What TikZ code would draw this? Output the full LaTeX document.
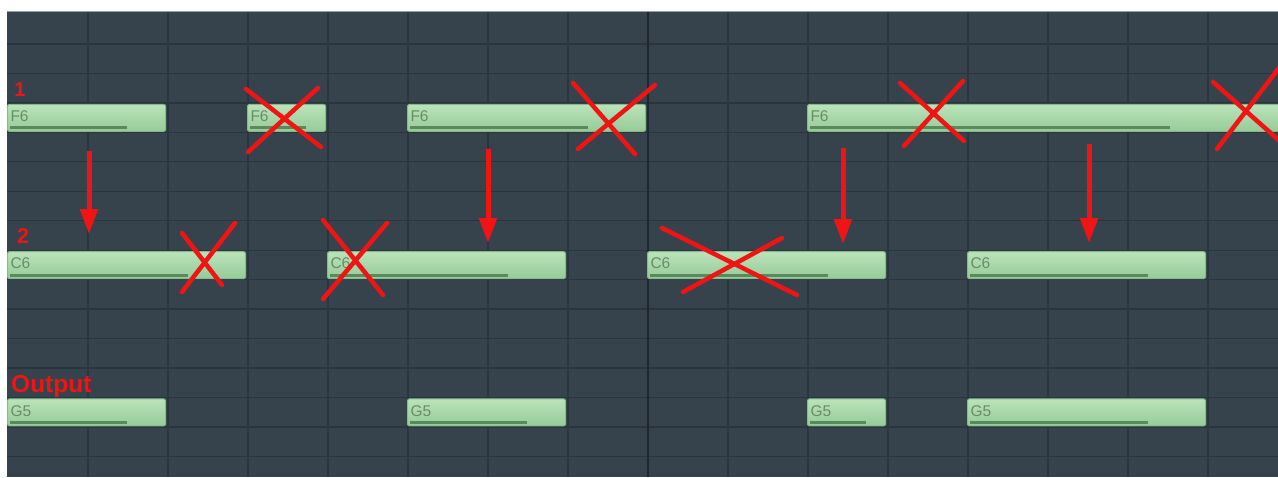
\documentclass[tikz,border=0pt]{standalone}
\usepackage{fontspec}
\setmainfont{Liberation Sans}
\definecolor{prbg}{HTML}{36434D}
\definecolor{prgrid}{HTML}{2A353E}
\definecolor{prbar}{HTML}{1F282F}
\definecolor{prtop}{HTML}{9AA2A8}
\definecolor{ntop}{HTML}{BAE3BA}
\definecolor{nbot}{HTML}{96CB99}
\definecolor{nedge}{HTML}{88B98A}
\definecolor{ntext}{HTML}{678C69}
\definecolor{nvel}{HTML}{5A895D}
\definecolor{mkred}{HTML}{F01414}
\usetikzlibrary{arrows.meta}

\begin{document}
\begin{tikzpicture}[x=1pt,y=-1pt,
  notebox/.style={draw=nedge,line width=1pt,rounded corners=2pt,top color=ntop,bottom color=nbot,
    anchor=north west,minimum height=27pt,inner xsep=3pt,inner ysep=0pt,align=left,
    font=\fontsize{15.5}{15.5}\selectfont,text=ntext,text height=11pt,text depth=3.5pt},
  vel/.style={nvel,line width=3pt},
  tag/.style={text=mkred,inner sep=0pt},
  strike/.style={mkred,line width=4.5pt,line cap=round},
  arr/.style={-{Triangle[length=25pt,width=17pt]},mkred,line width=5pt}]
  \useasboundingbox (0,0) rectangle (1278,477);
  \fill[white] (0,0) rectangle (1278,477);
  \begin{scope}
  \clip (7,11) rectangle (1278,477);
  \fill[prbg] (7,11) rectangle (1278,477);
  % piano roll grid
  \foreach \k in {0,...,14}
    \draw[prgrid,line width=1.3pt] (7,{44+29.45*\k}) -- (1278,{44+29.45*\k});
  \foreach \k in {0,...,14}
    \draw[prgrid,line width=1.5pt] ({88+80*\k},11) -- ({88+80*\k},477);
  \draw[prbar,line width=2pt] (648,11) -- (648,477);
  \draw[prtop,line width=1.5pt] (7,11) -- (1278,11);
  % notes: name/column/length/row/pitch
  \foreach \nm/\col/\len/\row/\txt in {f1/0/2/2/F6, f2/3/1/2/F6, f3/5/3/2/F6, f4/10/6/2/F6,
      c1/0/3/7/C6, c2/4/3/7/C6, c3/8/3/7/C6, c4/12/3/7/C6,
      g1/0/2/12/G5, g2/5/2/12/G5, g3/10/1/12/G5, g4/12/3/12/G5}{
    \pgfmathsetmacro{\xl}{7+80*\col}
    \pgfmathsetmacro{\yt}{45+29.45*\row}
    \pgfmathsetmacro{\w}{80*\len-2}
    \pgfmathsetmacro{\tw}{\w-6}
    \node[notebox,minimum width=\w pt,text width=\tw pt] (\nm) at (\xl,\yt) {\txt};
    \draw[vel] ([shift={(3,-4)}]\nm.south west) -- ++({0.76*\w-3},0);
  }
  % which notes pass
  \draw[arr,shorten <=19pt,shorten >=17pt] ([xshift=82pt]f1.south west) -- ([xshift=82pt]c1.north west);
  \draw[arr,shorten <=17pt,shorten >=8pt] ([xshift=81pt]f3.south west) -- ([xshift=161pt]c2.north west);
  \draw[arr,shorten <=16pt,shorten >=7pt] ([xshift=36pt]f4.south west) -- ([xshift=196pt]c3.north west);
  \draw[arr,shorten <=12pt,shorten >=8pt] ([xshift=282pt]f4.south west) -- ([xshift=122pt]c4.north west);
  % crossed out ends
  \draw[strike] (246,89) -- (321,147) (318,88) -- (248,152);
  \draw[strike] (573,83) -- (635,154) (655,85) -- (578,149);
  \draw[strike] (900,83) -- (964,141) (963,81) -- (904,146);
  \draw[strike] (1213,82) -- (1282,143) (1282,64) -- (1217,149);
  \draw[strike] (182,233) -- (222,285) (235,223) -- (182,292);
  \draw[strike] (323,220) -- (383,295) (387,223) -- (323,299);
  \draw[strike] (662,228) -- (797,295) (782,238) -- (683,292);
  \end{scope}
  \node[tag,font=\bfseries\fontsize{20}{20}\selectfont] (lab1) at (20,90) {1};
  \node[tag,font=\bfseries\fontsize{21.5}{21.5}\selectfont] (lab2) at (23,236) {2};
  \node[tag,font=\bfseries\fontsize{24.5}{24.5}\selectfont,anchor=base west] (lab3) at (11,392) {Output};
\end{tikzpicture}
\end{document}
